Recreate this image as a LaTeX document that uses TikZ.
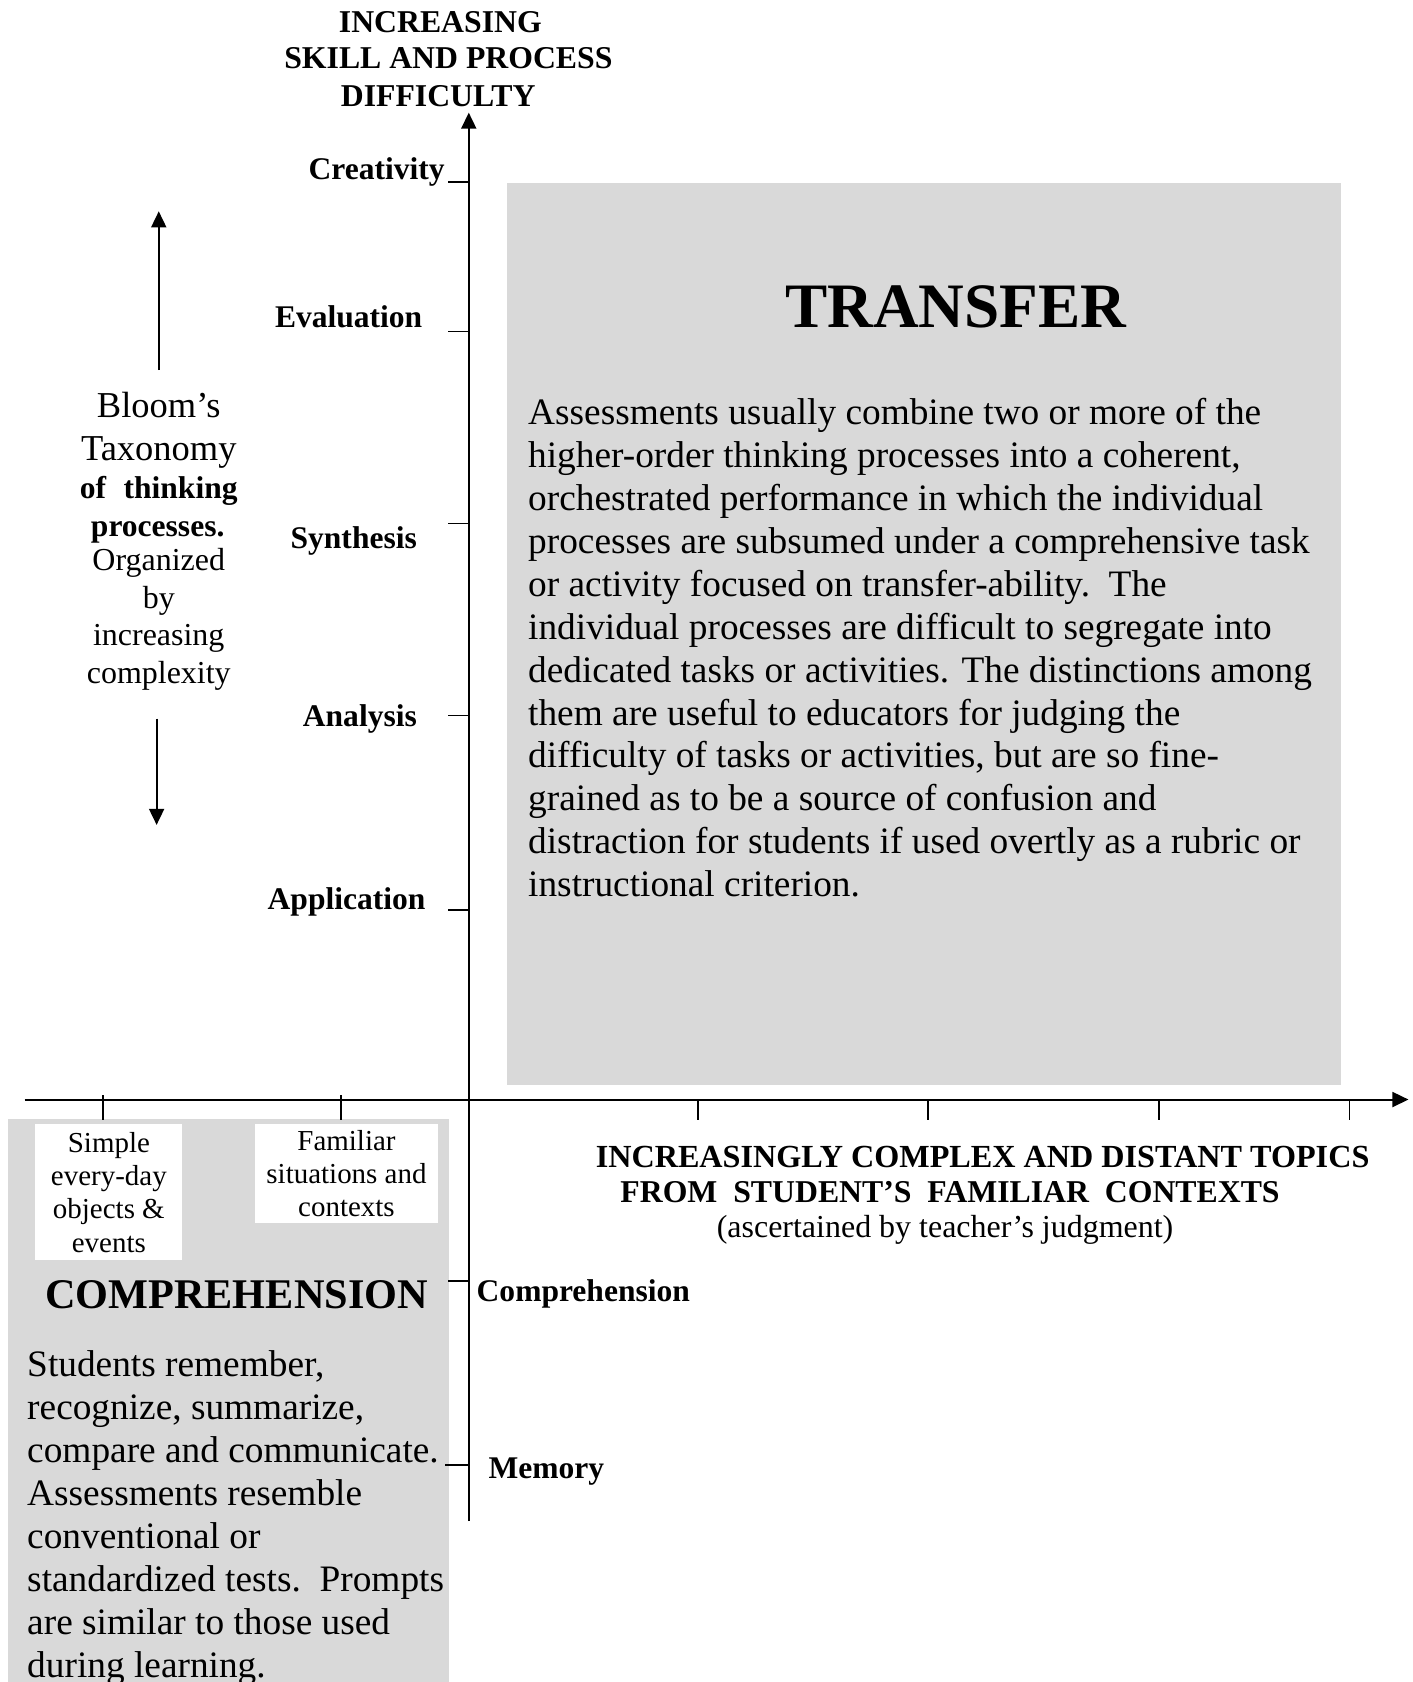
\documentclass[tikz,border=0pt]{standalone}
\usepackage{fontspec}
\setmainfont{Liberation Serif}
\usetikzlibrary{arrows.meta}
\definecolor{panelgray}{RGB}{217,217,217}
\begin{document}
\begin{tikzpicture}[x=0.5pt,y=-0.5pt,
  axis/.style={line width=0.9pt,-{Triangle[length=7.5pt,width=7pt]}},
  tick/.style={line width=0.9pt},
  panel/.style={fill=panelgray,draw=none},
  lvl/.style={font=\fontsize{14.7}{17}\selectfont\bfseries,inner sep=0pt},
  head/.style={font=\fontsize{14.8}{17}\selectfont\bfseries,inner sep=0pt},
  note/.style={font=\fontsize{14.9}{17}\selectfont,inner sep=0pt},
  body/.style={font=\fontsize{17.4}{20}\selectfont,inner sep=0pt,align=left},
  big/.style={font=\fontsize{17}{20}\selectfont,inner sep=0pt},
  small/.style={font=\fontsize{13.5}{15.5}\selectfont,inner sep=0pt,align=center,fill=white}]
\useasboundingbox (0,0) rectangle (1317,1568);
\clip (0,0) rectangle (1317,1568);

% shaded panels
\path[panel] (473,171) rectangle (1250,1011);
\path[panel] (7,1043) rectangle (419,1568);

% white labels on the lower-left panel
\node[small,minimum width=68.5pt,minimum height=63.5pt] (simple) at (101.5,1111.5)
  {Simple\\every-day\\objects \&\\events};
\node[small,minimum width=85pt,minimum height=46pt] (familiar) at (323,1094)
  {Familiar\\situations and\\contexts};

% axes
\coordinate (vbot) at (437,1418);
\coordinate (vtop) at (437,105);
\coordinate (hleft) at (23,1025);
\coordinate (hright) at (1313,1025);
\draw[axis] (vbot) -- (vtop);
\draw[axis] (hleft) -- (hright);

% ticks on the vertical axis
\foreach \y in {170,309,488,667,848,1194}
  \draw[tick] (418,\y) -- (437,\y);
\draw[tick] (415,1366) -- (437,1366);

% ticks on the horizontal axis
\foreach \x in {96,318}
  \draw[tick] (\x,1021) -- (\x,1044);
\foreach \x in {651,865,1080,1258}
  \draw[tick] (\x,1025) -- (\x,1044);

% vertical axis title
\node[head,anchor=base] (t1) at (410.5,30) {INCREASING};
\node[head,anchor=base] (t2) at (418,64) {SKILL AND PROCESS};
\node[head,anchor=base] (t3) at (408.5,99) {DIFFICULTY};

% levels of thinking
\node[lvl,anchor=base east] (creativity) at (415,167) {Creativity};
\node[lvl,anchor=base east] (evaluation) at (394,305) {Evaluation};
\node[lvl,anchor=base east] (synthesis) at (389,511) {Synthesis};
\node[lvl,anchor=base east] (analysis) at (389,677) {Analysis};
\node[lvl,anchor=base east] (application) at (397,848) {Application};
\node[lvl,anchor=base west] (comprehension) at (444,1213) {Comprehension};
\node[lvl,anchor=base west] (memory) at (455,1378) {Memory};

% Bloom's taxonomy note with its arrows
\node[big,anchor=base] (b1) at (148,389) {Bloom’s};
\node[big,anchor=base] (b2) at (148,429) {Taxonomy};
\node[lvl,anchor=base] (b3) at (148,465) {\makebox[73.5pt][s]{of thinking}};
\node[lvl,anchor=base] (b4) at (147,500) {processes.};
\node[note,anchor=base] (b5) at (148,532) {Organized};
\node[note,anchor=base] (b6) at (148,567) {by};
\node[note,anchor=base] (b7) at (148,602) {increasing};
\node[note,anchor=base] (b8) at (148,637) {complexity};
\coordinate (upfrom) at (148,345);
\coordinate (upto) at (148,197);
\coordinate (downfrom) at (146,670);
\coordinate (downto) at (146,769);
\draw[axis] (upfrom) -- (upto);
\draw[axis] (downfrom) -- (downto);

% horizontal axis title
\node[head,font=\fontsize{15}{17}\selectfont\bfseries,anchor=base west] (h1) at (555,1088) {INCREASINGLY COMPLEX AND DISTANT TOPICS};
\node[head,anchor=base west] (h2) at (578,1121) {FROM\ \ STUDENT’S\ \ FAMILIAR\ \ CONTEXTS};
\node[note,anchor=base] (h3) at (881,1154) {(ascertained by teacher’s judgment)};

% transfer panel text
\node[font=\fontsize{29.5}{32}\selectfont\bfseries,inner sep=0pt,anchor=base] (transfer) at (891,305) {TRANSFER};
\node[body,anchor=north west] (transfertext) at (492,371) {%
Assessments usually combine two or more of the\\
higher-order thinking processes into a coherent,\\
orchestrated performance in which the individual\\
processes are subsumed under a comprehensive task\\
or activity focused on transfer-ability.\ \ The\\
individual processes are difficult to segregate into\\
dedicated tasks or activities. The distinctions among\\
them are useful to educators for judging the\\
difficulty of tasks or activities, but are so fine-\\
grained as to be a source of confusion and\\
distraction for students if used overtly as a rubric or\\
instructional criterion.};

% comprehension panel text
\node[font=\fontsize{19.7}{22}\selectfont\bfseries,inner sep=0pt,anchor=base] (comptitle) at (220.5,1220) {COMPREHENSION};
\node[body,anchor=north west] (comptext) at (25,1259) {%
Students remember,\\
recognize, summarize,\\
compare and communicate.\\
Assessments resemble\\
conventional or\\
standardized tests.\ \ Prompts\\
are similar to those used\\
during learning.};
\end{tikzpicture}
\end{document}
